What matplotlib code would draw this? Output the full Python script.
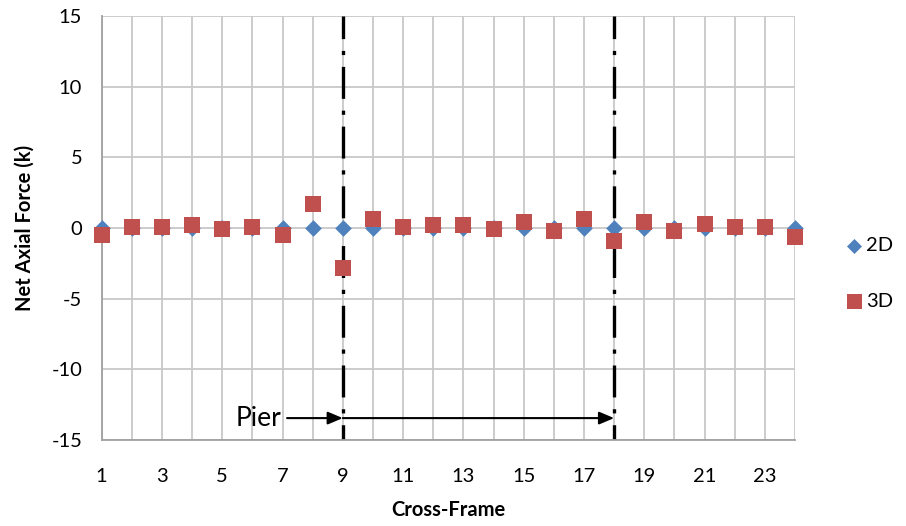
import matplotlib
matplotlib.use("Agg")
import matplotlib.pyplot as plt

plt.rcParams['font.family'] = ['Lato', 'DejaVu Sans']
plt.rcParams['lines.scale_dashes'] = False
plt.rcParams['axes.unicode_minus'] = False

# Cross-frame numbers and net axial forces (kips)
cross_frames = list(range(1, 25))
force_2d = [0.0] * 24
force_3d = [-0.5, 0.1, 0.1, 0.2, -0.05, 0.1, -0.5, 1.7, -2.8, 0.65,
            0.1, 0.2, 0.2, -0.05, 0.4, -0.2, 0.65, -0.9, 0.4, -0.2,
            0.25, 0.1, 0.1, -0.6]
pier_lines = [9, 18]
x_tick_labels = [1, 3, 5, 7, 9, 11, 13, 15, 17, 19, 21, 23]
y_ticks = [-15, -10, -5, 0, 5, 10, 15]

blue = '#4F81BD'
red = '#C0504D'
grid_c = '#C8C8C8'

fig = plt.figure(figsize=(9.06, 5.26), dpi=100)
ax = fig.add_axes([0.1122, 0.1635, 0.7653, 0.806])

ax.set_xlim(1, 24)
ax.set_ylim(-15, 15)

# grid: one vertical line per cross-frame, horizontal every 5 k
for x in cross_frames:
    ax.axvline(x, color=grid_c, lw=1.3, zorder=0)
for y in y_ticks:
    ax.axhline(y, color=grid_c, lw=1.3, zorder=0)

ax.set_xticks(x_tick_labels)
ax.set_xticklabels([str(v) for v in x_tick_labels])
ax.set_yticks(y_ticks)
ax.tick_params(axis='both', length=0, labelsize=14.5, colors='#000000')
ax.tick_params(axis='x', pad=20)
ax.tick_params(axis='y', pad=14)

for side in ['top', 'right']:
    ax.spines[side].set_visible(False)
for side in ['left', 'bottom']:
    ax.spines[side].set_color('#A0A0A0')
    ax.spines[side].set_linewidth(1.3)

# pier locations
for xp in pier_lines:
    ax.axvline(xp, color='black', lw=2.4, linestyle=(12, (23, 8.5, 3, 8.5)),
               zorder=2)

ax.scatter(cross_frames, force_2d, marker='D', s=72, color=blue,
           zorder=3, clip_on=False, linewidths=0, label='2D')
ax.scatter(cross_frames, force_3d, marker='s', s=144, color=red,
           zorder=4, clip_on=False, linewidths=0, label='3D')

# pier span annotation
y_arrow = -13.45
arrow_kw = dict(arrowstyle='-|>,head_length=0.9,head_width=0.38',
                color='black', lw=1.5, shrinkA=0, shrinkB=0)
ax.annotate('', xy=(pier_lines[0], y_arrow), xytext=(7.15, y_arrow),
            arrowprops=arrow_kw, zorder=5)
ax.annotate('', xy=(pier_lines[1], y_arrow), xytext=(pier_lines[0], y_arrow),
            arrowprops=arrow_kw, zorder=5)
ax.text(6.97, y_arrow, 'Pier', ha='right', va='center', fontsize=19)

ax.set_xlabel('Cross-Frame', fontsize=14.5, fontweight='bold', labelpad=11)
ax.set_ylabel('Net Axial Force (k)', fontsize=14.5, fontweight='bold',
              labelpad=12)

leg = fig.legend(loc='center left', bbox_to_anchor=(0.92, 0.48),
                 frameon=False, fontsize=14.5, labelspacing=1.9,
                 handletextpad=0.0, handlelength=1.2, borderaxespad=0,
                 markerscale=0.9)

fig.savefig('out.png', dpi=100)
